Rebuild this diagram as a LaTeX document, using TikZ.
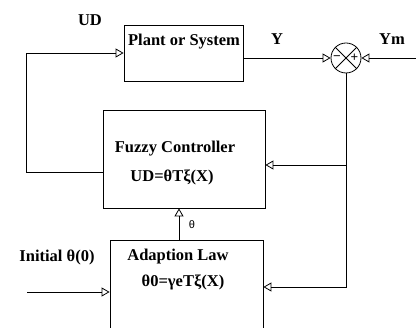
\documentclass[tikz,border=0pt]{standalone}
\usepackage{fontspec}
\setmainfont{Liberation Serif}
\newfontfamily\lblfont{Liberation Sans}
\usetikzlibrary{positioning, arrows.meta}

\begin{document}
\begin{tikzpicture}[
      x=1pt, y=-1pt,
      every node/.style={font=\fontsize{16.5}{20}\selectfont\bfseries},
      blk/.style={draw, line width=0.8pt, inner sep=0pt},
      wire/.style={line width=0.8pt},
      arr/.style={-{Triangle[open, length=8pt, width=9pt]}},
      sign/.style={font=\lblfont\fontsize{13}{14}\selectfont, inner sep=0pt},
    ]
    \useasboundingbox (0,0) rectangle (416,328);
    \clip (0,0) rectangle (416,328);

    % blocks
    \node[blk, minimum width=119pt, minimum height=56pt] (plant) at (183.5,53) {};
    \node[blk, minimum width=162pt, minimum height=98pt] (fuzzy) at (184,159) {};
    \node[blk, minimum width=153pt, minimum height=100pt] (adapt) at (186.5,290) {};
    \node[draw, circle, line width=0.8pt, minimum size=30pt, inner sep=0pt] (sum) at (346,58) {};
    \draw[wire] (sum.north west) -- (sum.south east);
    \draw[wire] (sum.south west) -- (sum.north east);
    \node[sign] (minus) at (337,58) {−};
    \node[sign] (plus) at (354.5,58) {+};

    % texts
    \node (plantlbl) at (184,42) {Plant or System};
    \node (fuzzylbl) at (175,149) {Fuzzy Controller};
    \node (fuzzyeq) at (172,177) {UD=θTξ(X)};
    \node (adaptlbl) at (178,257) {Adaption Law};
    \node (adapteq) at (183,282) {θ0=γeTξ(X)};
    \node (udlbl) at (90,20) {UD};
    \node (ylbl) at (277,39) {Y};
    \node (ymlbl) at (392,39) {Ym};
    \node (initlbl) at (57,257) {Initial θ(0)};
    \node[font=\lblfont\fontsize{11}{12}\selectfont] (thlbl) at (192,225) {θ};

    % connectors
    \coordinate (ymin) at (416,58);
    \coordinate (init) at (27,292);
    \coordinate (loop) at (26,53);
    \coordinate (tap) at (347,287);
    \coordinate (fuzzin) at ([yshift=-6pt]fuzzy.east);

    \draw[wire, arr] (plant.east |- sum) -- (sum.west);
    \draw[wire, arr] (ymin) -- (sum.east);
    \draw[wire, arr] (sum.south) |- (tap -| adapt.east);
    \draw[wire, arr] (sum.south |- fuzzin) -- (fuzzin);
    \draw[wire, arr] ([yshift=-13pt]fuzzy.west) -| (loop) -- (plant.west);
    \draw[wire, arr] ([xshift=-7.5pt]adapt.north) -- ([xshift=-7.5pt]adapt.north |- fuzzy.south);
    \draw[wire, arr] (init) -- (init -| adapt.west);
  \end{tikzpicture}
\end{document}
